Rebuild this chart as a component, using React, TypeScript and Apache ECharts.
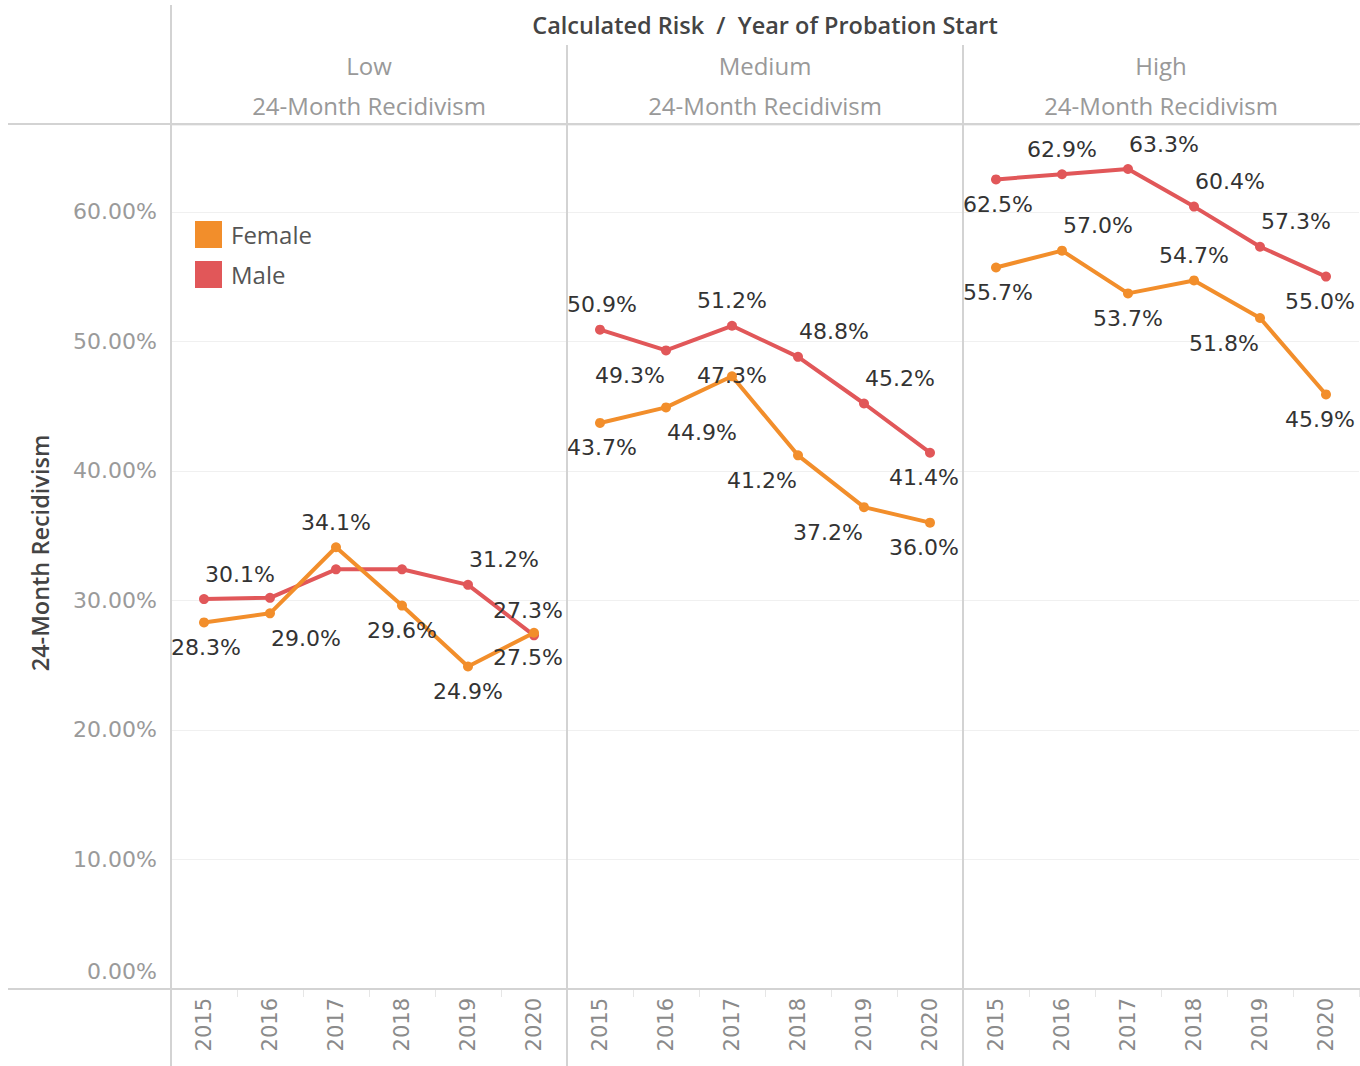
import React, { useEffect, useRef } from 'react';
import * as echarts from 'echarts';

const years = ['2015', '2016', '2017', '2018', '2019', '2020'];
const panels = ['Low', 'Medium', 'High'];
const yTicks = [0, 10, 20, 30, 40, 50, 60];

const lowFemale = [28.3, 29.0, 34.1, 29.6, 24.9, 27.5];
const lowMale = [30.1, 30.2, 32.4, 32.4, 31.2, 27.3];
const mediumFemale = [43.7, 44.9, 47.3, 41.2, 37.2, 36.0];
const mediumMale = [50.9, 49.3, 51.2, 48.8, 45.2, 41.4];
const highFemale = [55.7, 57.0, 53.7, 54.7, 51.8, 45.9];
const highMale = [62.5, 62.9, 63.3, 60.4, 57.3, 55.0];

// label placement codes (style only)
const lowFemalePlace = ['B', 'BR', 'T', 'B', 'B', 'B'];
const lowMalePlace = ['TR', '', '', '', 'TR', 'T'];
const mediumFemalePlace = ['B', 'BR', 'C', 'BL', 'BL', 'B'];
const mediumMalePlace = ['T', 'BL', 'T', 'TR', 'TR', 'B'];
const highFemalePlace = ['B', 'TR', 'B', 'T', 'BL', 'B'];
const highMalePlace = ['B', 'T', 'TR', 'TR', 'TR', 'B'];

const FEMALE = '#F28E2B';
const MALE = '#E15759';
const NUM_FONT = 'DejaVu Sans';
const HEAD_FONT = 'Open Sans';

const OFF: Record<string, [number, number]> = {
  T: [0, -25], B: [0, 25], TR: [36, -25], TL: [-36, -25],
  BR: [36, 25], BL: [-36, 25], C: [0, -1],
};

function buildData(values: number[], place: string[]) {
  return values.map((v, i) => {
    const p = place[i];
    if (!p) return { value: v, label: { show: false } };
    let [dx, dy] = OFF[p];
    if (i === 0) dx = Math.max(dx, 2);
    if (i === values.length - 1) dx = Math.min(dx, -6);
    return { value: v, label: { show: true, offset: [dx, dy] } };
  });
}

export default function App() {
  const ref = useRef<HTMLDivElement>(null);
  useEffect(() => {
    const chart = echarts.init(ref.current!, null, { renderer: 'svg' });
    const PL = 171, PW = 396, TOP = 125, BOT = 989;
    const panelData = [
      { f: lowFemale, m: lowMale, fp: lowFemalePlace, mp: lowMalePlace },
      { f: mediumFemale, m: mediumMale, fp: mediumFemalePlace, mp: mediumMalePlace },
      { f: highFemale, m: highMale, fp: highFemalePlace, mp: highMalePlace },
    ];
    const grids = panels.map((_, i) => ({
      left: PL + PW * i, top: TOP, width: PW, height: BOT - TOP, containLabel: false,
    }));
    const xAxes = panels.map((_, i) => ({
      type: 'category', gridIndex: i, data: years, boundaryGap: true,
      axisLine: { show: false },
      axisTick: { show: true, length: 8, interval: 0, lineStyle: { color: '#e6e6e6' } },
      axisLabel: {
        rotate: 90, interval: 0, margin: 9, fontSize: 21, color: '#8a8a8a', fontFamily: NUM_FONT,
      },
    }));
    const yAxes = panels.map((_, i) => ({
      type: 'value', gridIndex: i, min: 0, max: 66.7, interval: 10,
      axisLine: { show: false }, axisTick: { show: false },
      splitLine: { show: true, lineStyle: { color: '#f0f0f0', width: 1 } },
      axisLabel: {
        show: i === 0, margin: 14, fontSize: 22, color: '#9a9a9a', fontFamily: NUM_FONT,
        formatter: (v: number) => {
          if (!yTicks.includes(Math.round(v * 1000) / 1000)) return '';
          const s = v.toFixed(2) + '%';
          return v === 0 ? '{z|' + s + '}' : s;
        },
        rich: { z: { fontSize: 22, color: '#9a9a9a', fontFamily: NUM_FONT, padding: [0, 0, 36, 0] } },
      },
    }));
    const labelBase = {
      show: true, position: 'inside', fontSize: 22, color: '#333', fontFamily: NUM_FONT,
      formatter: (p: any) => Number(p.value).toFixed(1) + '%',
    };
    const series: any[] = [];
    panelData.forEach((pd, i) => {
      series.push({
        name: 'Male', type: 'line', xAxisIndex: i, yAxisIndex: i,
        data: buildData(pd.m, pd.mp), symbol: 'circle', symbolSize: 10,
        lineStyle: { color: MALE, width: 4 }, itemStyle: { color: MALE },
        label: labelBase, z: 2,
      });
      series.push({
        name: 'Female', type: 'line', xAxisIndex: i, yAxisIndex: i,
        data: buildData(pd.f, pd.fp), symbol: 'circle', symbolSize: 10,
        lineStyle: { color: FEMALE, width: 4 }, itemStyle: { color: FEMALE },
        label: labelBase, z: 3,
      });
    });

    const lineStyle = { stroke: '#d3d3d3', lineWidth: 2 };
    const graphic: any[] = [
      { type: 'line', shape: { x1: 8, y1: 124, x2: 1360, y2: 124 }, style: lineStyle, z: 10 },
      { type: 'line', shape: { x1: 8, y1: 989, x2: 1360, y2: 989 }, style: lineStyle, z: 10 },
      { type: 'line', shape: { x1: 171, y1: 5, x2: 171, y2: 1066 }, style: lineStyle, z: 10 },
      { type: 'line', shape: { x1: 567, y1: 45, x2: 567, y2: 1066 }, style: lineStyle, z: 10 },
      { type: 'line', shape: { x1: 963, y1: 45, x2: 963, y2: 1066 }, style: lineStyle, z: 10 },
      {
        type: 'text', x: 765, y: 25,
        style: { text: 'Calculated Risk  /  Year of Probation Start', fontFamily: HEAD_FONT, fontSize: 23.5, fontWeight: 600, fill: '#444', align: 'center', verticalAlign: 'middle' },
      },
      {
        type: 'text', x: 40, y: 553, rotation: Math.PI / 2,
        style: { text: '24-Month Recidivism', fontFamily: HEAD_FONT, fontSize: 23.5, fontWeight: 600, fill: '#444', align: 'center', verticalAlign: 'middle' },
      },
    ];
    panels.forEach((p, i) => {
      const cx = PL + PW * i + PW / 2;
      graphic.push({
        type: 'text', x: cx, y: 65,
        style: { text: p, fontFamily: HEAD_FONT, fontSize: 24, fill: '#999', align: 'center', verticalAlign: 'middle' },
      });
      graphic.push({
        type: 'text', x: cx, y: 105,
        style: { text: '24-Month Recidivism', fontFamily: HEAD_FONT, fontSize: 24, fill: '#999', align: 'center', verticalAlign: 'middle' },
      });
    });

    chart.setOption({
      animation: false,
      backgroundColor: '#fff',
      grid: grids,
      xAxis: xAxes,
      yAxis: yAxes,
      series,
      graphic,
      legend: {
        data: [{ name: 'Female', icon: 'rect' }, { name: 'Male', icon: 'rect' }],
        orient: 'vertical', left: 195, top: 221, padding: 0, itemWidth: 27, itemHeight: 27, itemGap: 13,
        itemStyle: { borderWidth: 0 },
        textStyle: { fontFamily: HEAD_FONT, fontSize: 24, color: '#555', padding: [0, 0, 0, 4] },
      },
    });
    return () => chart.dispose();
  }, []);
  return (
    <div
      ref={ref}
      style={{ position: 'fixed', left: 0, top: 0, width: 1360, height: 1066, background: '#fff' }}
    />
  );
}
